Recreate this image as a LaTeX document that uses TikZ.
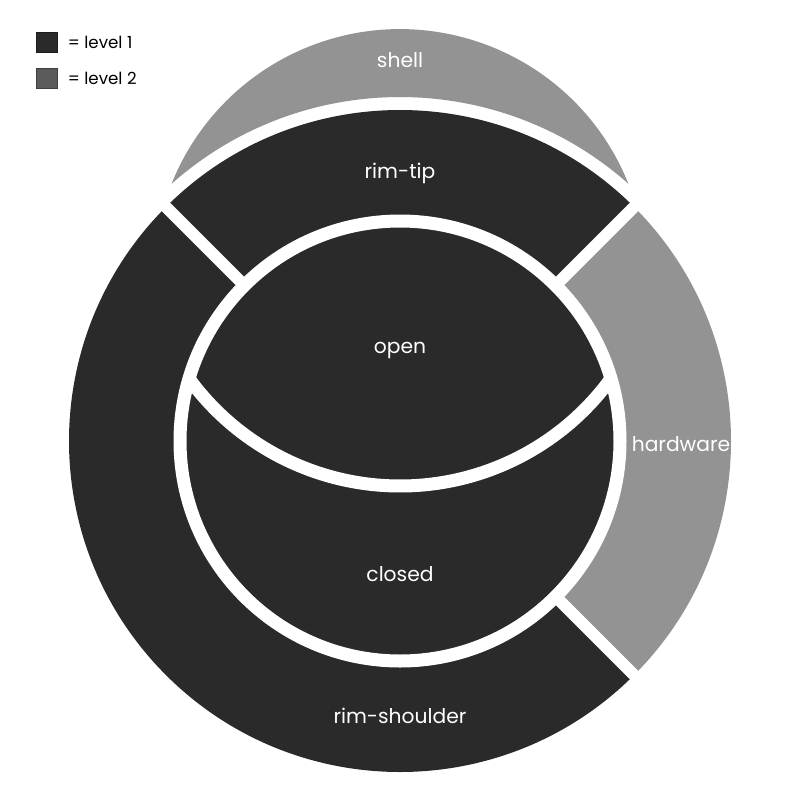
\documentclass[tikz,border=0pt]{standalone}
\usepackage{fontspec}
\setmainfont{Poppins}
\usetikzlibrary{positioning}

\definecolor{lvlone}{HTML}{2A2A2A}
\definecolor{lvltwo}{HTML}{939393}
\definecolor{keytwo}{HTML}{5A5A5A}

\tikzset{every picture/.style={line width=0.75pt}}
\tikzset{
    gapline/.style={draw=white, line width=9pt},
    ringline/.style={draw=white, line width=9.75pt},
    lbl/.style={text=white, font=\fontsize{15.2}{18}\selectfont, inner sep=0pt, anchor=base},
    keybox/.style={draw=#1!70!black, minimum size=15.4pt, inner sep=0pt},
    keytext/.style={font=\fontsize{12.5}{15}\selectfont, inner sep=0pt}
}

\begin{document}
\begin{tikzpicture}[x=0.75pt,y=0.75pt,yscale=-1,xscale=1]
        \useasboundingbox (0,0) rectangle (800,800);
        \coordinate (c) at (400,441);
        \coordinate (shellc) at (400,275);
        \coordinate (cutc) at (400,225);
        % shell
        \fill [lvltwo] (c) ++(-131.6:344) arc [start angle=-131.6, end angle=-48.4, radius=344] arc [start angle=-21.8, end angle=-158.2, radius=246] -- cycle ;
        % outer ring
        \fill [lvlone] (c) -- ++(45:331) arc [start angle=45, end angle=225, radius=331] -- cycle ;
        \fill [lvlone] (c) -- ++(-135:331) arc [start angle=-135, end angle=-45, radius=331] -- cycle ;
        \fill [lvltwo] (c) -- ++(-45:331) arc [start angle=-45, end angle=45, radius=331] -- cycle ;
        % inner disk
        \fill [lvlone] (c) circle [radius=222] ;
        \draw [gapline] (c) ++(-45:215) -- ++(-45:125) ;
        \draw [gapline] (c) ++(-135:215) -- ++(-135:125) ;
        \draw [gapline] (c) ++(45:215) -- ++(45:125) ;
        \draw [ringline] (c) circle [radius=220] ;
        \draw [ringline] (cutc) ++(36.06:261) arc [start angle=36.06, end angle=143.94, radius=261] ;
        % labels
        \node [lbl] (shelllbl) at (400,67) {shell};
        \node [lbl] (tiplbl) at (400,178) {rim-tip};
        \node [lbl] (openlbl) at (400,353) {open};
        \node [lbl] (hwlbl) at (681,451) {hardware};
        \node [lbl] (closedlbl) at (400,581) {closed};
        \node [lbl] (shoulderlbl) at (400,723) {rim-shoulder};
        % key
        \node [keybox=lvlone, fill=lvlone] (key1) at (47,42.3) {};
        \node [keybox=keytwo, fill=keytwo] (key2) at (47,78.6) {};
        \node [keytext, right=7.2pt of key1] (key1lbl) {= level 1};
        \node [keytext, right=7.2pt of key2] (key2lbl) {= level 2};
\end{tikzpicture}
\end{document}
